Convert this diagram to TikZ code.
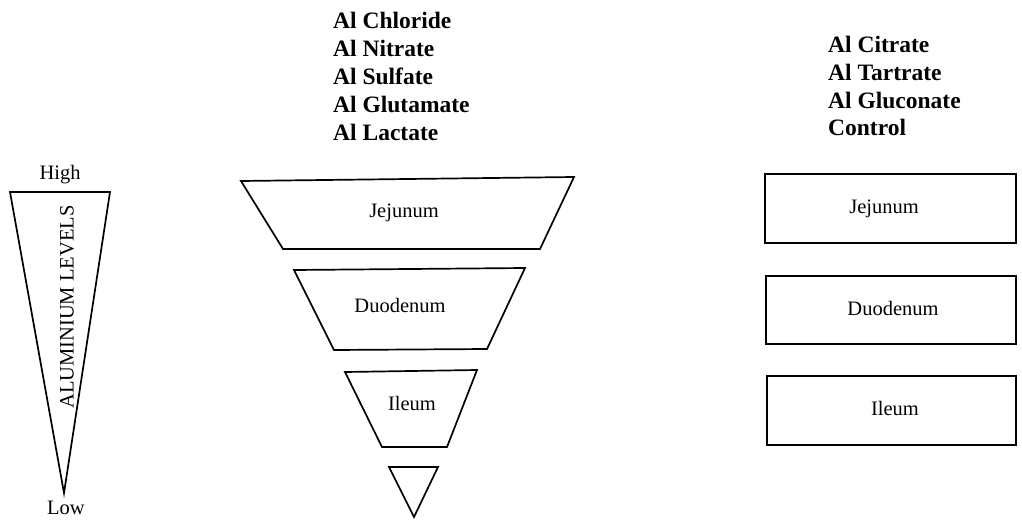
\documentclass[tikz,border=0pt]{standalone}
\usepackage{fontspec}
\setmainfont{Liberation Serif}
\begin{document}
\begin{tikzpicture}[x=1pt,y=-1pt,
  shp/.style={draw=black,line width=1.7pt,line join=miter},
  lbl/.style={font=\fontsize{20.5}{24}\selectfont,inner sep=0pt},
  bold/.style={font=\fontsize{23.5}{26}\selectfont\bfseries,inner sep=0pt,anchor=base west}]
\useasboundingbox (0,0) rectangle (1022,522);
% level triangle
\coordinate (t1) at (10,192); \coordinate (t2) at (110,192); \coordinate (t3) at (64,493);
\draw[shp] (t1) -- (t2) -- (t3) -- cycle;
\node[lbl] (high) at (60,175) {High};
\node[lbl] (low) at (66,508) {Low};
\node[lbl,rotate=90] (lev) at (67,307) {ALUMINIUM LEVELS};
% funnel
\draw[shp] (241,181) -- (574,177) -- (540,249) -- (283,249) -- cycle;
\node[lbl] (j1) at (404,213) {Jejunum};
\draw[shp] (294,270) -- (525,268) -- (487,349) -- (334,350) -- cycle;
\node[lbl] (d1) at (400,305) {Duodenum};
\draw[shp] (345,372) -- (477,370) -- (447,447) -- (382,447) -- cycle;
\node[lbl] (i1) at (412,403) {Ileum};
\draw[shp] (389,467) -- (438,467) -- (414,517) -- cycle;
% left list
\node[bold] (c1) at (333,28) {Al Chloride};
\node[bold] (c2) at (333,56) {Al Nitrate};
\node[bold] (c3) at (333,84) {Al Sulfate};
\node[bold] (c4) at (333,112) {Al Glutamate};
\node[bold] (c5) at (333,140) {Al Lactate};
% right list
\node[bold] (r1) at (828,52) {Al Citrate};
\node[bold] (r2) at (828,80) {Al Tartrate};
\node[bold] (r3) at (828,108) {Al Gluconate};
\node[bold] (r4) at (828,135) {Control};
% right boxes
\draw[shp] (765,174) rectangle (1016,243);
\node[lbl] (j2) at (884,209) {Jejunum};
\draw[shp] (766,276) rectangle (1016,344);
\node[lbl] (d2) at (893,308) {Duodenum};
\draw[shp] (767,376) rectangle (1016,445);
\node[lbl] (i2) at (895,408) {Ileum};
\end{tikzpicture}
\end{document}
